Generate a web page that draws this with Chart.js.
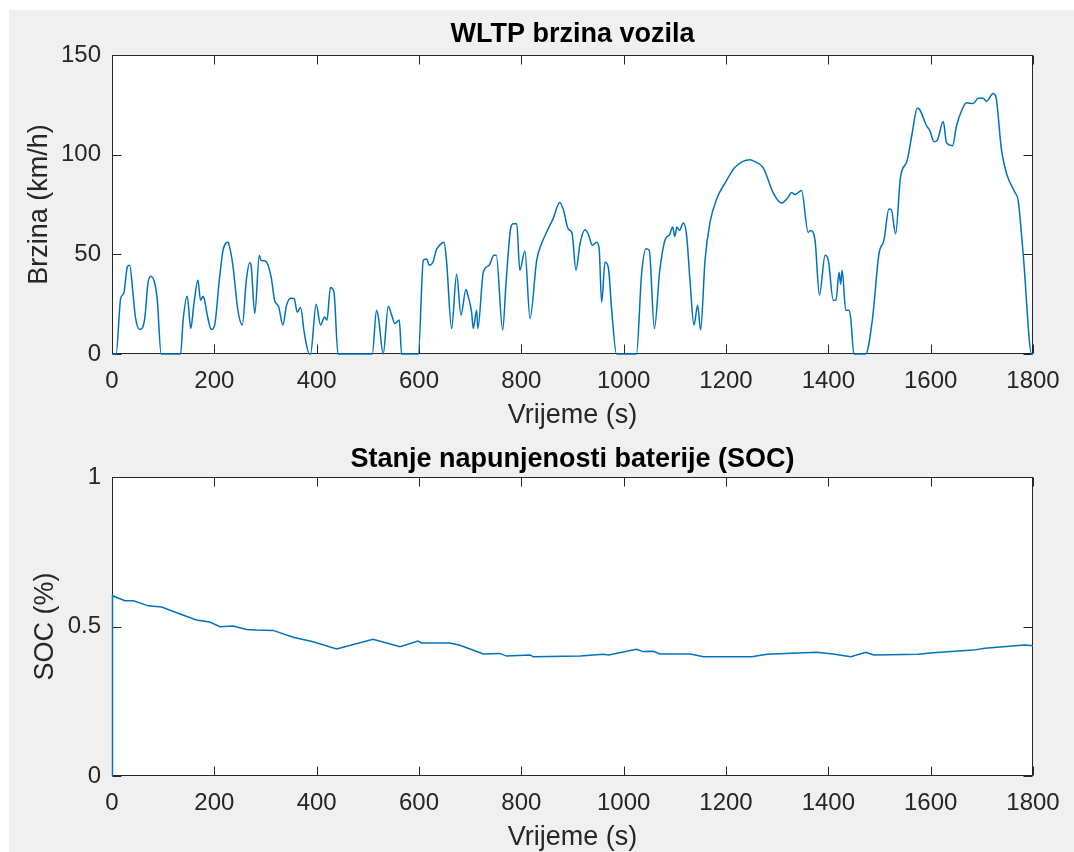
<!DOCTYPE html>
<html><head><meta charset="utf-8">
<script src="https://cdn.jsdelivr.net/npm/chart.js@4/dist/chart.umd.min.js"></script>
<style>
html,body{margin:0;padding:0;background:#fff;overflow:hidden;}
#fig{position:absolute;left:9px;top:10px;width:1065px;height:842px;background:#f0f0f0;}
canvas{position:absolute;left:0;}
#c1{top:0;}
#c2{top:430px;}
</style></head><body>
<div id="fig"></div>
<canvas id="c1" width="1074" height="430"></canvas>
<canvas id="c2" width="1074" height="422"></canvas>
<script>
// ---- Data ----
const speedTime = [0,8,17,23,30,34.5,41,45.6,54,64,70,75.5,83,88.5,96,134,139,147,154,160,168,173,178,180,187.6,194,200.6,210,217,226.7,228,236,246,254.7,262.5,269,271.5,279,288,291,299.7,311,317.7,325.7,334,340.7,349,356,362,368.5,376,386,388,399,407.6,415.5,420,427,433.8,441.7,508.7,517,521,530,540,546,553,561.5,566,598.7,608.5,615,620,627,634,640,648.9,654,663.7,673.5,682,691.7,695,702.8,706,712.6,715,725.7,737,746.5,751,763.5,770,779,784,791,797,807,817,830,839.5,852.5,862,875,882,891.7,899,906.8,914.6,924.5,931,939,947,952,957,963.6,970,976.6,986,1025,1035,1043.6,1050,1060,1070.6,1082.6,1089,1095.7,1100,1104,1109,1116.5,1123,1129.6,1137.4,1144.6,1150.4,1159,1168.7,1181.8,1201,1217.6,1247,1252,1273,1292,1308.6,1321.6,1328,1335,1347.6,1360.6,1365,1374,1382.6,1393.7,1400,1409.6,1415,1421,1424,1427,1434,1440,1443.6,1450,1473,1486,1499,1508.6,1518.4,1523,1531.5,1541,1554,1564,1573.7,1578,1592,1598.5,1606.6,1613,1624.6,1631,1642.7,1650.6,1660.4,1670,1683,1693,1703,1709,1722,1727,1738.6,1748.5,1764.8,1771,1781,1797.5,1800];
const speedKmh = [0,0,28,30.5,43.7,44.5,30.5,18.7,12.3,17.8,35,39,36,27,0,0,17,29,12.8,25,37,27,29,28,17.8,12.3,14.5,37.8,52,56,55.5,45,22,14.5,37,45.8,45,20.3,49.5,47,46.7,38.7,27,23.7,14.5,24,28,27.8,21,23.3,10.3,0,0,25,14.5,18.5,17,33.3,31,0,0,22,17.8,0,24,20,15.3,17,0,0,47,47.7,44.5,46,52.3,54.5,56,46,12.8,40,19.5,32.3,30,21,12.8,22,12.8,41,44.5,49.5,49.5,12,35.3,62.8,65.3,65.3,42,51.7,17.8,47,55.3,62.8,67.8,76,72.5,62.8,60.7,42,55.3,62.3,60,54.5,56,53,26,46,43.5,22,0,0,40,52.8,52,12.8,42,58.3,59.5,63.7,59,63.7,62,65.7,59.5,37,14.5,24.5,12,47,66,77.8,87,93.7,97.5,97,93.3,81,75.7,78.7,81,80,82,61,62,57,29.5,49.5,47,27,27,41,35,42,22,22,18.3,0,0,17,50.3,57,72.8,72.5,60.3,88.7,97,111,123.3,122.8,114.5,112,106.5,107.3,116.7,106,104.5,114.5,122,126,125.7,128.3,128.3,126.7,130.7,129.5,102,90.3,81,77,49.5,0,0];
const socTime = [0,1,25,42,71,97,133,165,191,211,237,263,283,315,354,393,439,510,563,598,605,660,680,726,758,771,817,823,915,960,971,1025,1038,1058,1071,1130,1156,1250,1280,1377,1409,1444,1473,1489,1576,1605,1683,1706,1784,1800];
const socValue = [0,0.603,0.586,0.586,0.569,0.565,0.542,0.522,0.515,0.499,0.502,0.49,0.488,0.487,0.464,0.449,0.425,0.457,0.432,0.451,0.445,0.445,0.437,0.408,0.41,0.401,0.405,0.399,0.401,0.407,0.405,0.424,0.416,0.417,0.408,0.408,0.399,0.399,0.407,0.414,0.408,0.399,0.414,0.405,0.407,0.412,0.421,0.427,0.438,0.436];

const titles = ['WLTP brzina vozila','Stanje napunjenosti baterije (SOC)'];
const xLabel = 'Vrijeme (s)';
const yLabels = ['Brzina (km/h)','SOC (%)'];

const FONT = '"Liberation Sans", Arial, Helvetica, sans-serif';
const AX = '#262626';
const fmt = v => String(Math.round(v*1000)/1000);

const matlabBox = {
  id:'matlabBox',
  beforeDatasetsDraw(chart){
    const {ctx, chartArea:a, scales} = chart;
    const L = Math.round(a.left)+0.5, R = Math.round(a.right)-0.5, T = Math.round(a.top)+0.5, B = Math.round(a.bottom)-0.5;
    const tl = 9;
    ctx.save();
    ctx.fillStyle = '#fff';
    ctx.fillRect(a.left, a.top, a.right-a.left, a.bottom-a.top);
    ctx.strokeStyle = AX; ctx.lineWidth = 1;
    ctx.beginPath();
    scales.x.ticks.forEach(t=>{
      const p = Math.round(scales.x.getPixelForValue(t.value))+0.5;
      ctx.moveTo(p,B); ctx.lineTo(p,B-tl);
      ctx.moveTo(p,T); ctx.lineTo(p,T+tl);
    });
    scales.y.ticks.forEach(t=>{
      const p = Math.round(scales.y.getPixelForValue(t.value))+0.5;
      ctx.moveTo(L,p); ctx.lineTo(L+tl,p);
      ctx.moveTo(R,p); ctx.lineTo(R-tl,p);
    });
    ctx.stroke();
    ctx.strokeRect(L,T,R-L,B-T);
    ctx.restore();
  }
};

function makeChart(id, xs, ys, cfg){
  const pts = xs.map((x,i)=>({x:x, y:ys[i]}));
  return new Chart(document.getElementById(id), {
    type:'line',
    data:{datasets:[{data:pts, borderColor:'#0072BD', borderWidth:1.5, pointRadius:0, fill:false,
      cubicInterpolationMode: cfg.smooth ? 'monotone' : 'default', tension:0, clip:4}]},
    options:{
      responsive:false, animation:false, events:[],
      layout:{padding:{left:0,right:41,top:0,bottom:0}},
      plugins:{
        legend:{display:false}, tooltip:{enabled:false},
        title:{display:true, text:cfg.title, color:'#000', fullSize:false,
          font:{family:FONT, size:27, weight:'bold'}, padding:{top:cfg.tpt+1.5, bottom:cfg.tpb-1.5}}
      },
      scales:{
        x:{type:'linear', min:0, max:1800,
          grid:{display:false, drawTicks:false, tickLength:0}, border:{display:false},
          ticks:{stepSize:200, color:AX, font:{family:FONT, size:24}, padding:12.6, maxRotation:0, autoSkip:false, callback:fmt},
          title:{display:true, text:xLabel, color:AX, font:{family:FONT, size:27}, padding:{top:0, bottom:-2}},
          afterFit(s){ s.height = 76; }
        },
        y:{type:'linear', min:cfg.ymin, max:cfg.ymax,
          grid:{display:false, drawTicks:false, tickLength:0}, border:{display:false},
          ticks:{stepSize:cfg.ystep, color:AX, font:{family:FONT, size:24}, padding:11, callback:fmt},
          title:{display:true, text:cfg.ylabel, color:AX, font:{family:FONT, size:27}, padding:{top:cfg.ypt, bottom:0}},
          afterFit(s){ s.width = 112; }
        }
      }
    },
    plugins:[matlabBox]
  });
}

makeChart('c1', speedTime, speedKmh, {title:titles[0], ylabel:yLabels[0], ymin:0, ymax:150, ystep:50, tpt:16.8, tpb:5.8, ypt:23, smooth:true});
makeChart('c2', socTime, socValue, {title:titles[1], ylabel:yLabels[1], ymin:0, ymax:1, ystep:0.5, tpt:11.8, tpb:2.8, ypt:29, smooth:false});
</script>
</body></html>
